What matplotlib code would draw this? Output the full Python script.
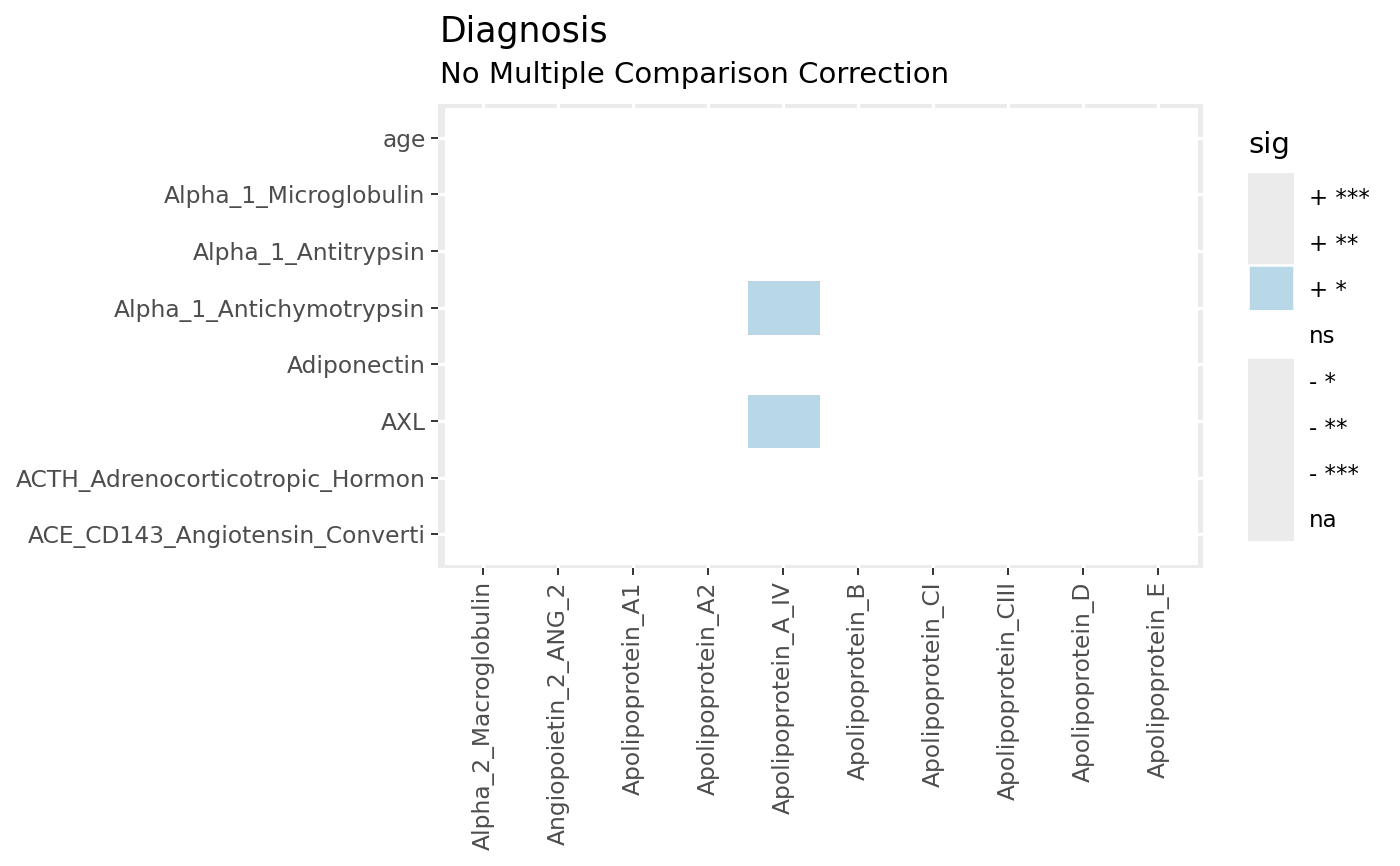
import numpy as np
import matplotlib
matplotlib.use("Agg")
import matplotlib.pyplot as plt
from matplotlib.colors import ListedColormap, BoundaryNorm
from matplotlib.patches import Rectangle

plt.rcParams['font.family'] = ['DejaVu Sans']

# data
rows = ["age", "Alpha_1_Microglobulin", "Alpha_1_Antitrypsin",
        "Alpha_1_Antichymotrypsin", "Adiponectin", "AXL",
        "ACTH_Adrenocorticotropic_Hormon", "ACE_CD143_Angiotensin_Converti"]
cols = ["Alpha_2_Macroglobulin", "Angiopoietin_2_ANG_2", "Apolipoprotein_A1",
        "Apolipoprotein_A2", "Apolipoprotein_A_IV", "Apolipoprotein_B",
        "Apolipoprotein_CI", "Apolipoprotein_CIII", "Apolipoprotein_D",
        "Apolipoprotein_E"]
sig_levels = ["+ ***", "+ **", "+ *", "ns", "- *", "- **", "- ***", "na"]
sig_colors = [None, None, "#B8D8E8", "white", None, None, None, None]

# significant cells (row, col) -> level, everything else is ns
sig_cells = {("Alpha_1_Antichymotrypsin", "Apolipoprotein_A_IV"): "+ *",
             ("AXL", "Apolipoprotein_A_IV"): "+ *"}

codes = np.full((len(rows), len(cols)), sig_levels.index("ns"))
for (r, c), lev in sig_cells.items():
    codes[rows.index(r), cols.index(c)] = sig_levels.index(lev)

grey = "#EBEBEB"
cmap = ListedColormap([c if c else grey for c in sig_colors])
norm = BoundaryNorm(np.arange(-0.5, len(sig_levels) + 0.5), len(sig_levels))

fig = plt.figure(figsize=(14, 8.66), dpi=100)
W, H = 1400, 866
ax = fig.add_axes([438.3 / W, 1 - 568.4 / H, 765 / W, 464.7 / H])
ax.set_facecolor(grey)
ax.set_axisbelow(True)
ax.grid(True, color="white", linewidth=2.4)

xe = np.arange(len(cols) + 1) - 0.5
ye = np.arange(len(rows) + 1) - 0.5
ax.pcolormesh(xe, ye, codes, cmap=cmap, norm=norm,
              edgecolors="white", linewidth=1.8)

ax.set_xlim(-0.6, len(cols) - 0.4)
ax.set_ylim(len(rows) - 0.4, -0.6)
ax.set_xticks(range(len(cols)))
ax.set_xticklabels(cols, rotation=90, ha="center", va="top")
ax.set_yticks(range(len(rows)))
ax.set_yticklabels(rows)
for s in ax.spines.values():
    s.set_visible(False)
ax.tick_params(length=5.1, width=1.4, color="#333333", pad=4.1,
               labelsize=16.8, labelcolor="#4D4D4D")

# titles
fig.text(440 / W, 1 - 41.7 / H, "Diagnosis", fontsize=25, va="baseline")
fig.text(440 / W, 1 - 83 / H, "No Multiple Comparison Correction",
         fontsize=21, va="baseline")

# legend drawn by hand (ggplot style keys)
lax = fig.add_axes([1248 / W, 1 - 541 / H, 46 / W, 368 / H])
lax.set_xlim(0, 1)
lax.set_ylim(len(sig_levels), 0)
lax.axis("off")
lax.add_patch(Rectangle((0, 0), 1, len(sig_levels), fc=grey, ec="none"))
for i, (lab, col) in enumerate(zip(sig_levels, sig_colors)):
    if col:
        lax.add_patch(Rectangle((0, i), 1, 1, fc=col, ec="white", lw=1.8))
    lax.annotate(lab, (1, i + 0.5), xytext=(11, -2), textcoords="offset points",
                 va="center", ha="left", fontsize=16.5)
fig.text(1248 / W, 1 - 145 / H, "sig", fontsize=21, va="center", ha="left")

fig.savefig("out.png", dpi=100)
